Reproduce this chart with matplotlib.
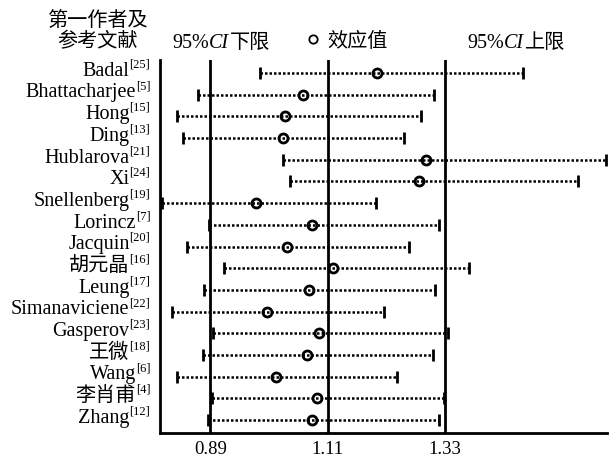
import matplotlib
matplotlib.use("Agg")
import matplotlib.pyplot as plt
from matplotlib.lines import Line2D
import numpy as np

plt.rcParams["font.family"] = ["Liberation Serif", "Noto Sans CJK SC"]

# study labels and reference numbers (top to bottom)
NAMES = ["Badal", "Bhattacharjee", "Hong", "Ding", "Hublarova", "Xi",
         "Snellenberg", "Lorincz", "Jacquin", "胡元晶", "Leung",
         "Simanaviciene", "Gasperov", "王微", "Wang", "李肖甫", "Zhang"]
REFS = ["[25]", "[5]", "[15]", "[13]", "[21]", "[24]", "[19]", "[7]", "[20]",
        "[16]", "[17]", "[22]", "[23]", "[18]", "[6]", "[4]", "[12]"]

# effect size and 95% CI bounds
EFFECT = [1.203, 1.064, 1.030, 1.027, 1.294, 1.281, 0.976, 1.081, 1.034,
          1.120, 1.075, 0.997, 1.094, 1.072, 1.014, 1.090, 1.081]
LOWER = [0.984, 0.867, 0.828, 0.839, 1.027, 1.040, 0.800, 0.888, 0.847,
         0.916, 0.879, 0.819, 0.896, 0.877, 0.828, 0.894, 0.886]
UPPER = [1.476, 1.309, 1.285, 1.253, 1.632, 1.579, 1.201, 1.319, 1.263,
         1.375, 1.311, 1.216, 1.336, 1.308, 1.240, 1.328, 1.319]

REF_LINES = [0.89, 1.11, 1.33]
XTICK_LABELS = ["0.89", "1.11", "1.33"]

W, H = 614, 459
fig = plt.figure(figsize=(W / 100, H / 100), dpi=100)
ax = fig.add_axes([160 / W, 1 - 433 / H, 447 / W, 373 / H])

n = len(NAMES)
ys = np.arange(n)[::-1]

for x in REF_LINES:
    ax.axvline(x, color="black", lw=2, zorder=1)

ax.hlines(ys, LOWER, UPPER, colors="black", lw=1.8,
          linestyles=[(0, (1, 0.8))], zorder=2)
ax.plot(LOWER, ys, ls="none", marker="|", ms=8, mew=2, color="black", zorder=3)
ax.plot(UPPER, ys, ls="none", marker="|", ms=8, mew=2, color="black", zorder=3)
ax.plot(EFFECT, ys, ls="none", marker="o", ms=6.5, mew=2,
        mfc="none", mec="black", zorder=4)

ax.set_xlim(0.796, 1.633)
ax.set_ylim(-0.6, n - 0.4)
ax.set_yticks([])
ax.set_xticks(REF_LINES)
ax.set_xticklabels(XTICK_LABELS, fontsize=13.5)
ax.tick_params(axis="x", length=0, pad=6)
for side in ["top", "right"]:
    ax.spines[side].set_visible(False)
for side in ["left", "bottom"]:
    ax.spines[side].set_linewidth(2)

# row labels with superscript reference numbers
for name, ref, y in zip(NAMES, REFS, ys):
    sup = ax.annotate(ref, xy=(0, y), xycoords=("axes fraction", "data"),
                      xytext=(-7, 4), textcoords="offset points",
                      ha="right", va="baseline", fontsize=9)
    ax.annotate(name, xy=(0, y), xycoords=(sup, "data"),
                xytext=(0, -2), textcoords="offset points",
                ha="right", va="baseline", fontsize=14.5)

# header
fig.text(97 / W, 1 - 22 / H, "第一作者及", ha="center", va="center", fontsize=14.5)
fig.text(97 / W, 1 - 43 / H, "参考文献", ha="center", va="center", fontsize=14.5)


def ci_header(x_px, word):
    yb = 1 - 48 / H
    t1 = fig.text(x_px / W, yb, "95%", ha="left", va="baseline", fontsize=14.5)
    t2 = fig.text(0, yb, "CI", ha="left", va="baseline", fontsize=14.5, style="italic")
    t2.set_transform(fig.transFigure)
    a2 = ax.annotate("CI", xy=(1, yb), xycoords=(t1, "figure fraction"),
                     ha="left", va="baseline", fontsize=14.5, style="italic")
    t2.remove()
    ax.annotate(word, xy=(1, yb), xycoords=(a2, "figure fraction"),
                xytext=(1, 0), textcoords="offset points",
                ha="left", va="baseline", fontsize=14.5)


ci_header(172, "下限")
ci_header(467, "上限")

handle = Line2D([], [], ls="none", marker="o", ms=6, mew=1.3,
                mfc="none", mec="black")
fig.legend([handle], ["效应值"], loc="center",
           bbox_to_anchor=(346 / W, 1 - 42 / H), frameon=False,
           fontsize=14.5, handlelength=0.8, handletextpad=0.3,
           borderpad=0, borderaxespad=0)

fig.savefig("out.png", dpi=100)
